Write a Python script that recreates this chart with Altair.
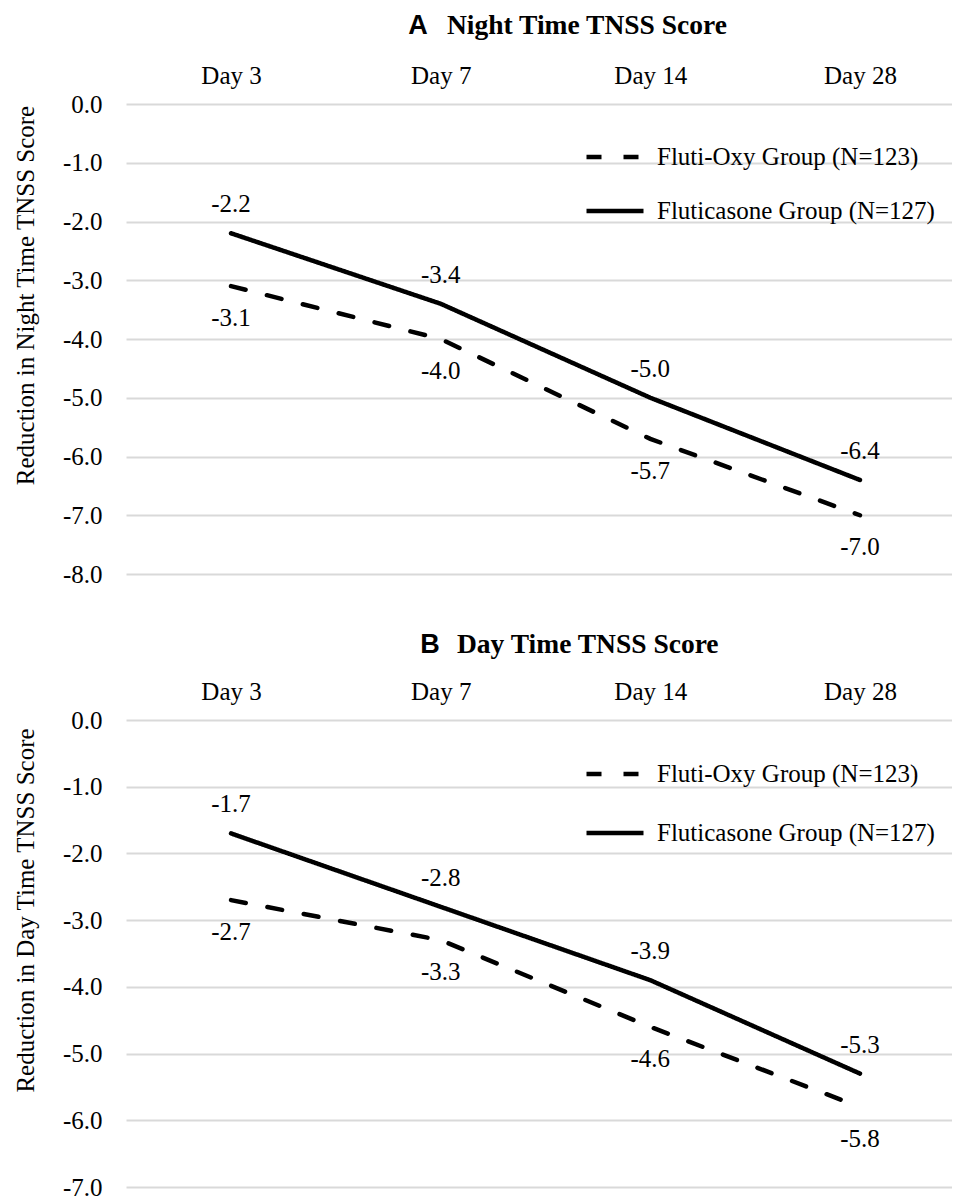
import altair as alt
import pandas as pd

days = ["Day 3", "Day 7", "Day 14", "Day 28"]
series_names = ["Fluti-Oxy Group (N=123)", "Fluticasone Group (N=127)"]
night_fluti_oxy = [-3.1, -4.0, -5.7, -7.0]
night_fluticasone = [-2.2, -3.4, -5.0, -6.4]
day_fluti_oxy = [-2.7, -3.3, -4.6, -5.8]
day_fluticasone = [-1.7, -2.8, -3.9, -5.3]

SERIF = "Liberation Serif"
SANS = "Liberation Sans"
W = 826


def frame(a, b):
    rows = []
    for d, v in zip(days, a):
        rows.append({"day": d, "series": series_names[0], "value": v, "label": f"{v:.1f}"})
    for d, v in zip(days, b):
        rows.append({"day": d, "series": series_names[1], "value": v, "label": f"{v:.1f}"})
    return pd.DataFrame(rows)


def panel(df, letter, title, ytitle, ymin, height, title_x, letter_x, title_y,
          legend_y, row_pad, ytitle_y):
    x = alt.X(
        "day:N", sort=days,
        scale=alt.Scale(type="point", padding=0.47, align=0.533),
        axis=alt.Axis(orient="top", title=None, labelAngle=0, ticks=False,
                      domain=False, grid=False, labelPadding=16,
                      labelFontSize=25, labelFont=SERIF, labelColor="black"),
    )
    y = alt.Y(
        "value:Q",
        scale=alt.Scale(domain=[ymin, 0], nice=False, zero=False),
        axis=alt.Axis(values=list(range(ymin, 1)), format=".1f",
                      labelExpr="replace(datum.label, '\u2212', '-')", title=ytitle,
                      ticks=False, domain=False, grid=True, gridColor="#d9d9d9",
                      gridWidth=2, labelPadding=24, labelFontSize=25,
                      labelFont=SERIF, labelColor="black", titleFont=SERIF,
                      titleFontSize=25, titleFontWeight="normal",
                      titleColor="black", titlePadding=24, titleY=ytitle_y),
    )
    base = alt.Chart(df)
    lines = base.mark_line(color="black", strokeWidth=4.5, strokeCap="round").encode(
        x=x, y=y,
        strokeDash=alt.StrokeDash(
            "series:N",
            scale=alt.Scale(domain=series_names, range=[[15, 22], [1, 0]]),
            legend=alt.Legend(title=None, orient="none", legendX=458, legendY=legend_y,
                              symbolType="stroke", symbolSize=3249,
                              symbolStrokeWidth=4.5, symbolStrokeColor="black",
                              labelFont=SERIF, labelFontSize=25, labelColor="black",
                              labelOffset=11, rowPadding=row_pad, labelLimit=400),
        ),
    )
    up = base.transform_filter(alt.datum.series == series_names[1]).mark_text(
        font=SERIF, fontSize=25, color="black", dy=-29, baseline="middle"
    ).encode(x=x, y=y, text="label:N")
    down = base.transform_filter(alt.datum.series == series_names[0]).mark_text(
        font=SERIF, fontSize=25, color="black", dy=32, baseline="middle"
    ).encode(x=x, y=y, text="label:N")
    lab = alt.Chart(pd.DataFrame({"t": [letter]})).mark_text(
        font=SANS, fontWeight="bold", fontSize=27, color="black",
        align="center", baseline="alphabetic"
    ).encode(text="t:N", x=alt.value(letter_x), y=alt.value(title_y))
    ttl = alt.Chart(pd.DataFrame({"t": [title]})).mark_text(
        font=SERIF, fontWeight="bold", fontSize=27.5, color="black",
        align="left", baseline="alphabetic"
    ).encode(text="t:N", x=alt.value(title_x), y=alt.value(title_y))
    return alt.layer(lines, up, down, lab, ttl).properties(width=W, height=height)


pa = panel(frame(night_fluti_oxy, night_fluticasone), "A", "Night Time TNSS Score",
           "Reduction in Night Time TNSS Score", -8, 470, 321, 292, -70, 22, 10, 191)
pb = panel(frame(day_fluti_oxy, day_fluticasone), "B", "Day Time TNSS Score",
           "Reduction in Day Time TNSS Score", -7, 467, 331, 304, -67, 23, 15, 190)

chart = alt.vconcat(pa, pb, spacing=44).resolve_scale(
    strokeDash="independent", x="independent", y="independent"
).resolve_legend(strokeDash="independent").properties(
    padding={"left": 5, "top": 4, "right": 0, "bottom": 0}
).configure(background="white", view=alt.ViewConfig(stroke=None))

chart.save("out.html", embed_options={"renderer": "svg", "actions": False})
